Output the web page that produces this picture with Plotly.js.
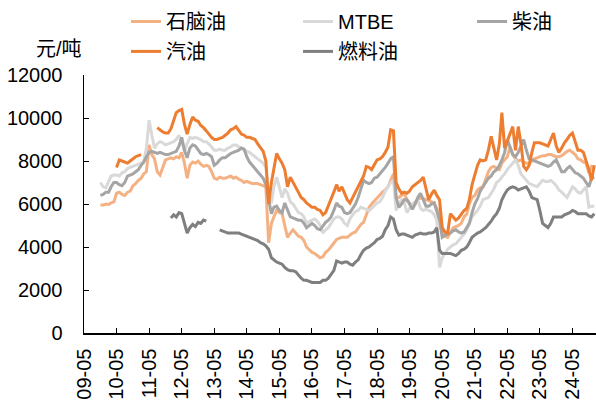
<!DOCTYPE html>
<html><head><meta charset="utf-8">
<script src="https://cdn.plot.ly/plotly-3.0.1.min.js"></script>
<style>html,body{margin:0;padding:0;background:#fff}#chart{width:596px;height:404px}</style>
</head><body><div id="chart"></div>
<script>
// monthly observation dates: 2009-11 .. 2025-01
const firstYear = 2009, firstMonth = 11, monthCount = 183;
const dates = [];
for (let k = 0; k < monthCount; k++) {
  const m0 = firstMonth - 1 + k;
  dates.push((firstYear + Math.floor(m0 / 12)) + '-' + String(m0 % 12 + 1).padStart(2, '0') + '-01');
}

const seriesNames = ['石脑油', 'MTBE', '柴油', '汽油', '燃料油'];
const unitLabel = '元/吨';

const naphtha = [
  5950, 5950,
  6000, 5980, 6050, 6100, 6500, 6550, 6450, 6400, 6550, 6600, 6850, 6950,
  7100, 7200, 7400, 7500, 8750, 8300, 8100, 7500, 7350, 7700, 8050, 8100,
  8150, 8100, 8200, 8150, 8400, 7900, 7200, 7800, 7950, 7900, 8000, 7850,
  7750, 7800, 7750, 7500, 7200, 7150, 7250, 7200, 7200, 7250, 7300, 7200,
  7250, 7150, 7100, 7000, 7050, 7000, 6950, 6950, 6950, 6900, 6850, 6800,
  4200, 5100, 5400, 5700, 5600, 5550, 5000, 4450, 4650, 4800, 4650, 4500,
  4450, 4300, 4000, 3850, 3750, 3700, 3600, 3500, 3550, 3750, 3850, 4000,
  4200, 4350, 4400, 4450, 4450, 4450, 4550, 4650, 4700, 4900, 5050, 5150,
  5500, 5850, 6000, 6150, 6250, 6400, 6550, 6650, 6800, 7100, 7400, 6300,
  6300, 6400, 6500, 6200, 6000, 5850, 6000, 6200, 6300, 6250, 6200, 6150,
  6100, 6050, 5800, 5550, 4650, 4500, 4450, 4700, 4900, 4950, 5000, 5100,
  5400, 5550, 6000, 6300, 6400, 6650, 6750, 6800, 7200, 7500, 7700, 7750,
  7650, 7600, 7900, 8050, 8200, 8650, 8300, 8100, 8000, 8050, 7950, 7900,
  7900, 8000, 8100, 8150, 8200, 8250, 8250, 8300, 8300, 8250, 8200, 8200,
  8250, 8350, 8450, 8500, 8400, 8300, 8100, 8050, 7950, 7900, 7450, 7750,
  7700
];

const mtbe = [
  7000, 6800,
  6750, 7000, 7300, 7350, 7350, 7300, 7450, 7500, 7650, 7700, 7750, 7800,
  7850, 7900, 7950, 8600, 9900, 9200, 8600, 8800, 8900, 8850, 8750, 8800,
  8850, 8900, 9000, 9200, 8900, 8450, 8800, 9100, 9050, 9100, 9050, 9000,
  8900, 8900, 8800, 8650, 8500, 8500, 8550, 8500, 8500, 8600, 8650, 8750,
  8750, 8650, 8600, 8500, 8450, 8400, 8300, 8200, 8100, 8000, 7900, 7700,
  6600, 6050, 6800, 7250, 6800, 6300, 6700, 6500, 6100, 6000, 5800, 5600,
  5550, 5400, 5100, 5200, 5250, 5300, 5200, 5000, 4650, 4800, 4900, 5100,
  5300, 5400, 5400, 5300, 5100, 5000, 5300, 5500, 5650, 5700, 5850, 5800,
  5750, 5700, 5800, 5950, 6050, 6100, 6300, 6600, 6800, 7000, 7100, 5700,
  6000, 6200, 6100, 5600, 5800, 6000, 6100, 6200, 5800, 5700, 5750, 5700,
  5650, 5500, 5250, 3050, 3500, 3700, 3900, 4000, 4100, 4150, 4300, 4450,
  4600, 4800, 5100, 5400, 5550, 5700, 5900, 6200, 6250, 6300, 6500, 6700,
  7000, 7100, 7250, 7400, 7600, 7750, 7900, 8050, 7800, 7400, 7250, 7100,
  6950, 6900, 6850, 6800, 6950, 7100, 7050, 7050, 7100, 7000, 6850, 6650,
  6550, 6400, 6300, 6550, 6800, 6700, 6550, 6500, 6650, 6800, 5850, 5900,
  5900
];

const diesel = [
  6400, 6450,
  6550, 6550, 6800, 7000, 7000, 6900, 6850, 7000, 7300, 7350, 7400, 7500,
  7600, 7800, 7950, 8200, 8400, 8450, 8400, 8350, 8400, 8350, 8300, 8300,
  8350, 8400, 8450, 8700, 9100, 8500, 8150, 8600, 8750, 8700, 8500, 8350,
  8300, 8350, 8300, 8200, 7800, 7900, 8050, 8150, 8150, 8250, 8350, 8400,
  8450, 8500, 8600, 8550, 8200, 7950, 7800, 7650, 7550, 7400, 7200, 6900,
  6200, 5550, 5850, 5900, 5700, 5600, 6050, 5700, 5400, 5350, 5300, 5250,
  5250, 5100, 4900, 5000, 5100, 5000, 4850, 4800, 5000, 5150, 5250, 5400,
  5700, 6050, 5900, 5850, 5600, 5550, 5600, 5800, 6000, 6300, 6700, 7100,
  7000, 6950, 7000, 7200, 7250, 7400, 7500, 7700, 7900, 8100, 8200, 6300,
  5850, 6000, 6200, 6200, 6000, 5750, 6000, 6300, 6500, 6200, 5900, 5900,
  6000, 6050, 5700, 5250, 4450, 4550, 4600, 4650, 4750, 4800, 4700, 4650,
  4700, 4900, 5100, 5600, 6000, 6250, 6600, 6800, 7000, 7200, 7300, 7500,
  7600, 7800, 8050, 8400, 9000, 8600, 8300, 8200, 8400, 8700, 9000, 8500,
  8100, 8050, 8000, 7950, 7900, 7850, 7800, 7750, 7800, 7950, 8050, 7800,
  7500, 7500, 7650, 7750, 7600, 7450, 7400, 7300, 7200, 7000, 6800, 7200,
  7250
];

const gasoline = [
  null, null,
  null, null, null, null, 7700, 8050, 8000, 7950, 7900, 8000, 8100, 8200,
  8250, 8300, null, null, null, null, null, 9550, 9450, 9350, 9300, 9300,
  9500, 9900, 10250, 10350, 10400, 9700, 9250, 9700, 10050, 9900, 9850, 9650,
  9550, 9400, 9250, 9100, 9000, 9000, 9050, 9100, 9200, 9300, 9450, 9500,
  9600, 9400, 9250, 9200, 9100, 9100, 9050, 9000, 8800, 8650, 8450, 8000,
  6000, 7000, 7600, 8350, 8100, 7900, 7600, 6800, 7250, 7000, 6800, 6500,
  6300, 6200, 6050, 5950, 5850, 5850, 5750, 5700, 5500, 5600, 5900, 6200,
  6550, 6900, 6600, 6800, 6500, 6200, 6050, 6300, 6500, 6800, 7000, 7300,
  7750, 7700, 7600, 7800, 8050, 8100, 8200, 8400, 8650, 9450, 9400, 7000,
  6700, 6500, 6550, 6500, 6600, 6800, 6900, 7000, 7100, 7250, 6700, 6200,
  6450, 6650, 6400, 6200, 4900, 4700, 4650, 5550, 5400, 5250, 5350, 5550,
  5700, 5800, 6200, 6900, 7400, 7800, 8050, 8000, 8050, 8500, 9150, 8600,
  8050, 8800, 10250, 8600, 8900, 9300, 9600, 8500, 9600, 8800, 7750, 7600,
  7800, 8400, 8850, 8850, 8850, 8800, 8750, 8700, 9000, 9300, 8700, 8400,
  8600, 8850, 9000, 9200, 9300, 8900, 8500, 8500, 8400, 8000, 7600, 7100,
  7800
];

const fuelOil = [
  null, null,
  null, null, null, null, null, null, null, null, null, null, null, null,
  null, null, null, null, null, null, null, null, null, null, null, null,
  5350, 5500, 5400, 5600, 5550, 5150, 4650, 4900, 5050, 4950, 5150, 5100,
  5250, 5200, null, null, null, null, 4800, 4750, 4700, 4650, 4650, 4650,
  4650, 4650, 4600, 4550, 4500, 4450, 4400, 4350, 4300, 4200, 4150, 4050,
  3900, 3500, 3400, 3300, 3250, 3200, 3050, 2950, 2900, 2900, 2850, 2700,
  2550, 2450, 2450, 2400, 2350, 2350, 2350, 2350, 2450, 2450, 2550, 2750,
  2900, 3350, 3300, 3250, 3300, 3300, 3200, 3150, 3300, 3400, 3650, 3850,
  3950, 4000, 4100, 4200, 4350, 4400, 4500, 4800, 5000, 5400, 5300, 4800,
  4550, 4600, 4600, 4550, 4500, 4450, 4550, 4600, 4650, 4600, 4600, 4650,
  4650, 4700, 4900, 3850, 3700, 3700, 3700, 3700, 3650, 3600, 3700, 3850,
  3900, 4000, 4200, 4450, 4550, 4650, 4700, 4800, 4900, 5050, 5200, 5400,
  5550, 5800, 6200, 6450, 6650, 6750, 6800, 6750, 6650, 6700, 6750, 6800,
  6600, 6300, 6250, 6200, 5700, 5100, 5000, 4900, 5100, 5400, 5400, 5400,
  5400, 5500, 5550, 5600, 5700, 5650, 5550, 5550, 5550, 5550, 5450, 5400,
  5550
];

const xTickDates = ['2009-05-01','2010-05-01','2011-05-01','2012-05-01','2013-05-01','2014-05-01',
  '2015-05-01','2016-05-01','2017-05-01','2018-05-01','2019-05-01','2020-05-01','2021-05-01',
  '2022-05-01','2023-05-01','2024-05-01'];
const yTickValues = [0, 2000, 4000, 6000, 8000, 10000, 12000];

const seriesValues = [naphtha, mtbe, diesel, gasoline, fuelOil];
const seriesColors = ['#F4B183', '#D9D9D9', '#A5A5A5', '#ED7D31', '#7F7F7F'];

const FONT = "'Liberation Sans', Arial, 'Noto Sans CJK SC', sans-serif";

// one legend per entry so the 3 + 2 grid of the original is placed exactly
const legendIds = ['legend', 'legend2', 'legend3', 'legend4', 'legend5'];
const legendPos = [[0.082, 1.283], [0.418, 1.283], [0.758, 1.283], [0.082, 1.167], [0.418, 1.167]];

const traces = seriesValues.map((vals, k) => ({
  type: 'scatter', mode: 'lines', name: seriesNames[k],
  x: dates, y: vals, connectgaps: false, legend: legendIds[k],
  line: { color: seriesColors[k], width: 3 }
}));

const layout = {
  width: 596, height: 404,
  margin: { l: 84, r: 0, t: 75, b: 71 },
  paper_bgcolor: '#fff', plot_bgcolor: '#fff',
  font: { family: FONT, size: 20, color: '#000' },
  showlegend: true,
  xaxis: {
    type: 'date', range: ['2009-05-01', '2025-01-20'],
    tickmode: 'array', tickvals: xTickDates, tickformat: '%y-%m', tickangle: -90,
    ticks: 'inside', ticklen: 5, tickwidth: 1, tickcolor: '#000',
    showline: true, linecolor: '#000', linewidth: 1.5,
    showgrid: false, zeroline: false, ticklabelstandoff: 6,
    tickfont: { family: FONT, size: 20, color: '#000' }
  },
  yaxis: {
    range: [0, 12000], tickmode: 'array', tickvals: yTickValues, tickformat: 'd',
    ticks: 'inside', ticklen: 5, tickwidth: 1, tickcolor: '#000',
    showline: true, linecolor: '#000', linewidth: 1.5,
    showgrid: false, zeroline: false, ticklabelstandoff: 16,
    tickfont: { family: FONT, size: 20, color: '#000' }
  },
  annotations: [{
    text: unitLabel, xref: 'paper', yref: 'paper', x: 0, y: 1.1,
    xanchor: 'right', yanchor: 'middle', showarrow: false,
    font: { family: FONT, size: 20, color: '#000' }
  }]
};
legendIds.forEach((id, k) => {
  layout[id] = {
    orientation: 'h', x: legendPos[k][0], xanchor: 'left', y: legendPos[k][1], yanchor: 'top',
    font: { family: FONT, size: 20, color: '#000' },
    bgcolor: 'rgba(0,0,0,0)', borderwidth: 0
  };
});

Plotly.newPlot('chart', traces, layout, { displayModeBar: false, staticPlot: true });
</script>
</body></html>
